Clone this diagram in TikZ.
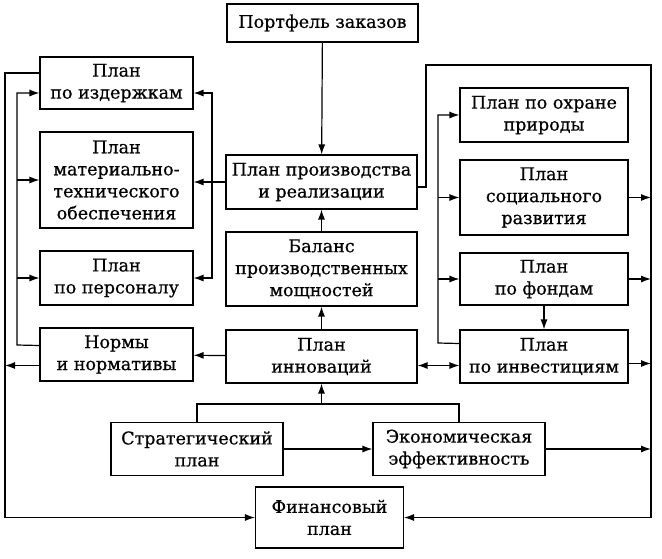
\documentclass[tikz,border=0pt]{standalone}
\usepackage{fontspec}
\setmainfont[FakeBold=0.6]{DejaVu Serif}
\usetikzlibrary{arrows.meta}
\tikzset{>={Latex[length=10pt,width=7pt]}}

\begin{document}
\begin{tikzpicture}[x=1pt,y=-1pt]
\tikzset{
  plan/.style={
    draw,
    line width=1.1pt,
    align=center,
    inner sep=1pt,
    font=\fontsize{17.5}{22}\selectfont
  }
};

\tikzstyle{link}=[line width=1.2pt]

\useasboundingbox (0,0) rectangle (662,558);

% centre column
 \node[plan,minimum width=191pt,minimum height=38pt] (portf) at (322.5,23) {Портфель заказов};
 \node[plan,minimum width=191pt,minimum height=54pt] (proizv) at (321.5,182) {План производства\\и реализации};
 \node[plan,minimum width=191pt,minimum height=74pt] (balans) at (321.5,269) {Баланс\\производственных\\мощностей};
 \node[plan,minimum width=191pt,minimum height=53pt] (innov) at (321.5,356.5) {План\\инноваций};

% left column
 \node[plan,minimum width=153pt,minimum height=52pt] (izd) at (116.5,83) {План\\по издержкам};
 \node[plan,minimum width=153pt,minimum height=96pt] (mto) at (116.5,180) {План\\материально-\\технического\\обеспечения};
 \node[plan,minimum width=153pt,minimum height=54pt] (pers) at (116.5,278) {План\\по персоналу};
 \node[plan,minimum width=153pt,minimum height=53pt] (norm) at (116.5,354.5) {Нормы\\и нормативы};

% right column
 \node[plan,minimum width=168pt,minimum height=54pt] (priroda) at (544,115) {План по охране\\природы};
 \node[plan,minimum width=168pt,minimum height=75pt] (social) at (544,197.5) {План\\социального\\развития};
 \node[plan,minimum width=168pt,minimum height=52pt] (fond) at (544,279) {План\\по фондам};
 \node[plan,minimum width=168pt,minimum height=53pt] (invest) at (544,356.5) {План\\по инвестициям};

% bottom
 \node[plan,minimum width=172pt,minimum height=53pt] (strat) at (197,449) {Стратегический\\план};
 \node[plan,minimum width=172pt,minimum height=53pt] (econ) at (459,449) {Экономическая\\эффективность};
 \node[plan,minimum width=148pt,minimum height=61pt] (fin) at (329.5,517.5) {Финансовый\\план};

 \coordinate (lb) at (212,182);
 \coordinate (lin) at (17,345);
 \coordinate (lout) at (5,300);
 \coordinate (rin) at (438,343);
 \coordinate (rturn) at (426,65);
 \coordinate (rout) at (651,65);
 \coordinate (sj) at (322,404);

  \draw[link,->] (portf) -- (proizv);
  \draw[link,->] (balans) -- (proizv);
  \draw[link,->] (innov) -- (balans);
  \draw[link,->] (innov) -- (norm);

  \draw[link] (proizv.west) -- (lb);
  \draw[link,->] (lb) |- ([yshift=-10pt]izd.east);
  \draw[link,->] (lb) -- (lb -| mto.east);
  \draw[link,->] (lb) |- (pers.east);

  \draw[link,->] ([yshift=9pt]norm.west) -- (lin) |- ([yshift=-10pt]izd.west);
  \draw[link,->] (lin |- mto) -- (mto.west);
  \draw[link,->] (lin |- pers) -- (pers.west);

  \draw[link,->] ([yshift=10pt]izd.west) -| (lout) |- (fin.west);
  \draw[link,->] ([yshift=-11pt]norm.west) -- ([yshift=-11pt]norm.west -| lout);

  \draw[link,->] ([yshift=13pt]invest.west) -- (rin) |- (priroda.west);
  \draw[link,->] (rin |- social) -- (social.west);
  \draw[link,->] (rin |- fond) -- (fond.west);
  \draw[link,->] (fond) -- (invest);
  \draw[link,<->] ([yshift=-9pt]innov.east) -- ([yshift=-9pt]invest.west);

  \draw[link,->] ([yshift=-5pt]proizv.east) -| (rturn) -- (rout) |- (fin.east);
  \draw[link,->] (social.east) -- (social.east -| rout);
  \draw[link,->] (fond.east) -- (fond.east -| rout);
  \draw[link,->] ([yshift=-7pt]invest.east) -- ([yshift=-7pt]invest.east -| rout);
  \draw[link,->] (econ.east) -- (econ.east -| rout);

  \draw[link] (strat.north) |- (sj) -| (econ.north);
  \draw[link,->] (sj) -- (sj -| innov.south) -- (innov.south);
  \draw[link,->] (strat) -- (econ);
\end{tikzpicture}
\end{document}
